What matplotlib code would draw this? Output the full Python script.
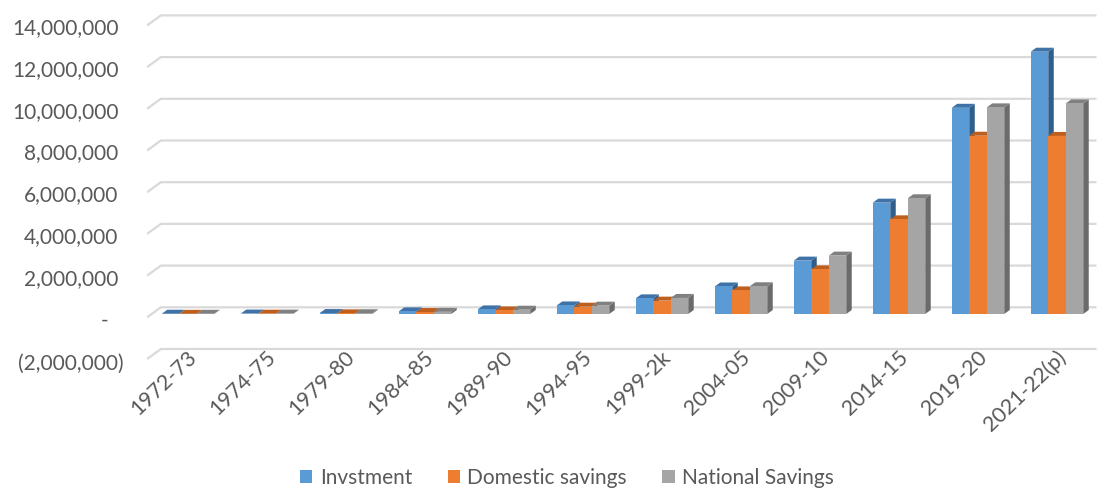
import matplotlib
matplotlib.use("Agg")
import matplotlib.pyplot as plt
from matplotlib.patches import Polygon, Patch
from matplotlib.transforms import blended_transform_factory
import numpy as np

categories = ['1972-73', '1974-75', '1979-80', '1984-85', '1989-90', '1994-95',
              '1999-2k', '2004-05', '2009-10', '2014-15', '2019-20', '2021-22(p)']
investment = [12000, 20000, 45000, 125000, 220000, 410000, 750000, 1320000,
              2560000, 5340000, 9890000, 12580000]
domestic = [8000, 15000, 30000, 95000, 170000, 350000, 640000, 1130000,
            2140000, 4540000, 8550000, 8540000]
national = [10000, 17000, 35000, 105000, 205000, 400000, 770000, 1330000,
            2800000, 5550000, 9910000, 10100000]
series_names = ['Invstment', 'Domestic savings', 'National Savings']
yticks = [-2000000, 0, 2000000, 4000000, 6000000, 8000000, 10000000, 12000000, 14000000]

front_cols = ['#5B9BD5', '#ED7D31', '#A5A5A5']
top_cols = ['#3F72A6', '#BF5F1E', '#808080']
side_cols = ['#2F5E8C', '#A5521A', '#6B6B6B']
txt_col = '#595959'
grid_col = '#D9D9D9'
FONT = 'Lato'

W, H = 1097, 490
fig = plt.figure(figsize=(W / 100, H / 100), dpi=100)
# axes geometry in pixels (front plane)
x0_px, x1_px = 148.5, 1096.5
ytop_px, ybot_px = 22.1, 355.7
ax = fig.add_axes([x0_px / W, 1 - ybot_px / H, (x1_px - x0_px) / W, (ybot_px - ytop_px) / H])
ax.set_xlim(-0.5, 11.5)
ax.set_ylim(-2000000, 14000000)
ax.axis('off')

px_x = 11.0 / (x1_px - x0_px)          # data units per pixel (x)
px_y = 16000000 / (ybot_px - ytop_px)   # data units per pixel (y)

# back wall gridlines with oblique left segment
back_dy = 6.7 * px_y
for v in yticks:
    yb = v + back_dy
    xb = -0.5 + (162 - x0_px) * px_x
    xf = xb - 15 * px_x
    ax.plot([xf, xb, 11.5], [yb - 10 * px_y, yb, yb], color=grid_col, lw=1.6,
            clip_on=False, zorder=1, solid_capstyle='butt')

# bars
bw = 17.5 / 79
ddx = 6 * px_x
ddy = 4 * px_y
data = [investment, domestic, national]
x = np.arange(len(categories))
for i in range(len(categories)):
    for s in range(3):
        v = data[s][i]
        left = x[i] + (s - 1.5) * bw
        right = left + bw
        z = 3 + i * 3 + s
        ax.bar(left, v, width=bw, align='edge', color=front_cols[s], zorder=z + 0.3,
               linewidth=0)
        top = Polygon([[left, v], [right, v], [right + ddx, v + ddy], [left + ddx, v + ddy]],
                      closed=True, facecolor=top_cols[s], edgecolor='none', zorder=z + 0.2)
        side = Polygon([[right, 0], [right + ddx, ddy], [right + ddx, v + ddy], [right, v]],
                       closed=True, facecolor=side_cols[s], edgecolor='none', zorder=z + 0.1)
        ax.add_patch(top)
        ax.add_patch(side)

# y tick labels
tr = blended_transform_factory(ax.transAxes, ax.transData)
lab_off = -6.3 * px_y
FS_Y = 15
for v in yticks:
    if v == 0:
        ax.text((104.5 - x0_px) / (x1_px - x0_px), v + lab_off, '-', transform=tr,
                ha='center', va='center', fontsize=FS_Y, color=txt_col, family=FONT)
    elif v < 0:
        ax.text((124 - x0_px) / (x1_px - x0_px), v + lab_off - 2 * px_y,
                '({:,})'.format(-v), transform=tr,
                ha='right', va='center', fontsize=FS_Y, color=txt_col, family=FONT)
    else:
        ax.text((118.5 - x0_px) / (x1_px - x0_px), v + lab_off, '{:,}'.format(v),
                transform=tr, ha='right', va='center', fontsize=FS_Y, color=txt_col,
                family=FONT)

# x category labels
ylab = -2000000 + (ybot_px - 347) * px_y
for i, c in enumerate(categories):
    ax.text(x[i] - 1 * px_x, ylab, c, rotation=44, rotation_mode='anchor',
            ha='right', va='top', fontsize=15.5, color=txt_col, family=FONT, clip_on=False)

# legend
handles = [Patch(facecolor=front_cols[s], edgecolor='none') for s in range(3)]
fig.legend(handles, series_names, loc='center', bbox_to_anchor=(567 / W, 1 - 478 / H),
           ncol=3, frameon=False, handlelength=0.6, handleheight=0.6,
           handletextpad=0.35, columnspacing=1.7, borderpad=0, borderaxespad=0,
           prop={'family': FONT, 'size': 15}, labelcolor=txt_col)

fig.savefig('out.png', dpi=100)
